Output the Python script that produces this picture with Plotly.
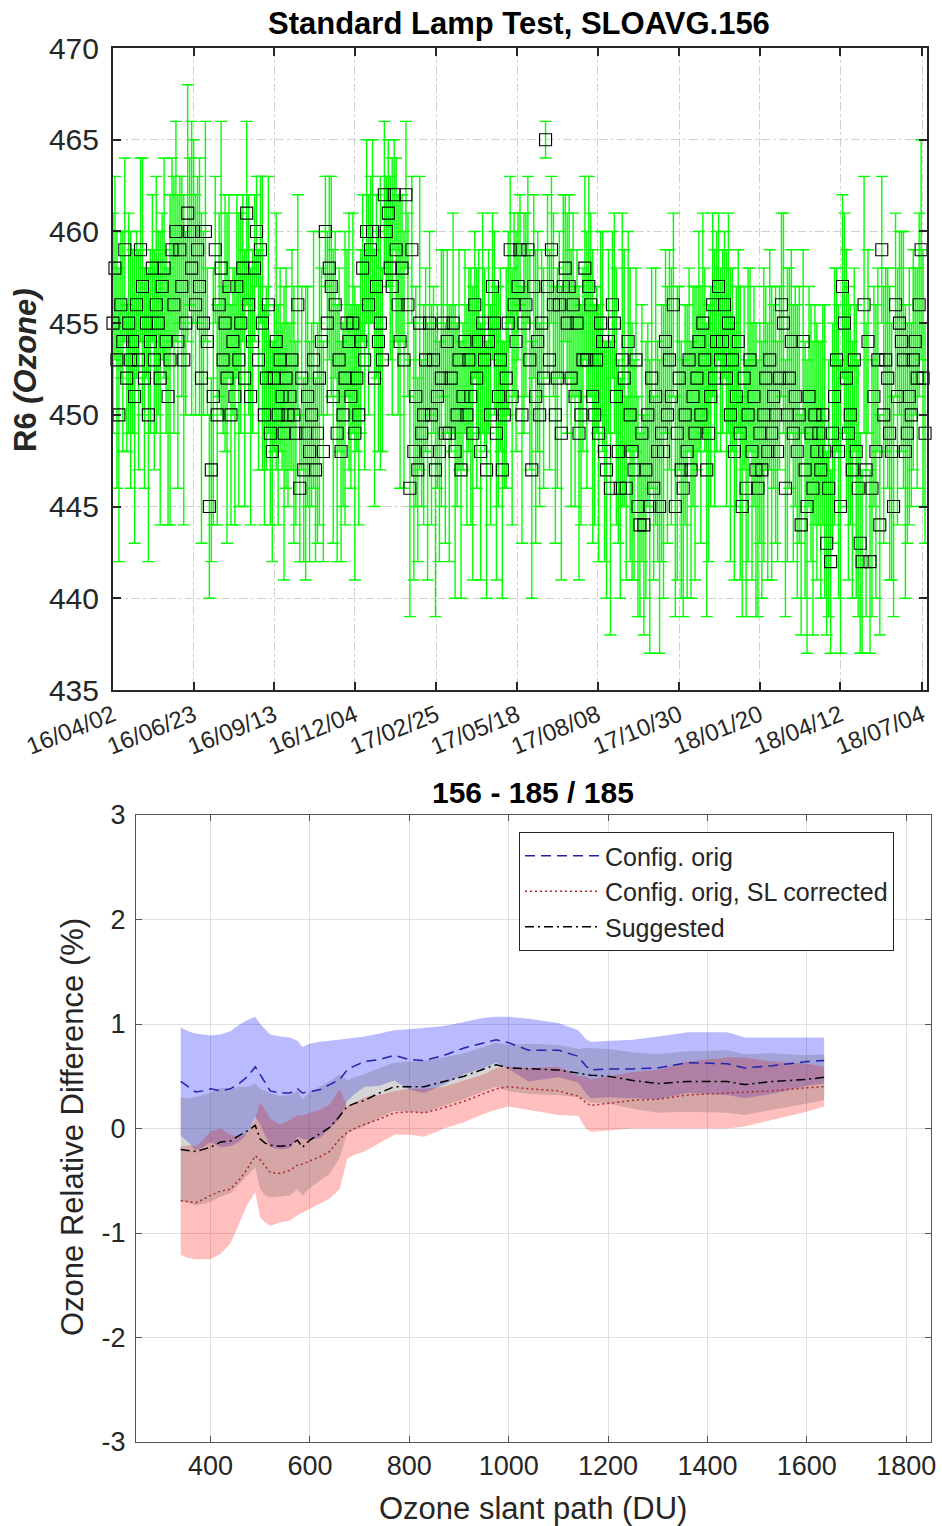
import plotly.graph_objects as go
import pandas as pd

# ---------------- top panel data (SL R6 ozone, sampled every 2 days) ----------------
start_date = "2016-04-02"
step_days = 2
r6 = [
    455, 458, 453, 450, 456, 454, 459, 452, 455, 453,
    454, 451, 456, 453, 459, 457, 452, 455, 450, 454,
    458, 453, 456, 455, 452, 457, 458, 454, 451, 453,
    459, 456, 460, 454, 459, 457, 453, 455, 461, 460,
    458, 460, 456, 459, 457, 452, 455, 460, 454, 445,
    447, 451, 459, 450, 456, 458, 453, 455, 452, 457,
    450, 454, 451, 457, 453, 455, 458, 452, 461, 456,
    451, 454, 458, 460, 453, 459, 455, 450, 452, 456,
    449, 448, 452, 454, 450, 453, 451, 449, 452, 450,
    451, 453, 450, 449, 456, 446, 452, 447, 449, 451,
    448, 450, 453, 447, 449, 452, 454, 448, 460, 455,
    458, 457, 451, 456, 449, 453, 448, 450, 452, 455,
    454, 451, 455, 449, 452, 450, 454, 458, 453, 460,
    456, 459, 460, 452, 457, 454, 455, 453, 462, 460,
    461, 458, 457, 462, 459, 456, 454, 458, 453, 462,
    456, 446, 459, 448, 451, 447, 455, 449, 450, 453,
    448, 455, 450, 453, 447, 451, 448, 452, 455, 449,
    454, 449, 452, 455, 448, 450, 453, 447, 451, 454,
    450, 453, 451, 449, 456, 452, 454, 448, 455, 453,
    447, 454, 450, 457, 455, 449, 451, 453, 447, 450,
    452, 455, 459, 451, 456, 454, 457, 459, 450, 455,
    456, 459, 453, 447, 457, 451, 454, 450, 455, 452,
    465, 457, 453, 459, 456, 450, 452, 456, 449, 457,
    458, 455, 457, 452, 456, 451, 455, 449, 450, 453,
    458, 453, 457, 456, 451, 450, 453, 449, 455, 454,
    448, 447, 454, 446, 456, 455, 451, 448, 446, 453,
    452, 446, 454, 450, 448, 447, 453, 445, 444, 449,
    444, 447, 450, 445, 452, 446, 451, 448, 445, 449,
    448, 454, 450, 453, 451, 456, 445, 449, 452, 447,
    446, 450, 448, 453, 447, 451, 449, 452, 454, 450,
    455, 453, 447, 449, 451, 456, 452, 454, 457, 453,
    454, 456, 452, 455, 450, 453, 448, 451, 454, 449,
    445, 452, 446, 450, 453, 448, 451, 447, 446, 449,
    447, 450, 452, 448, 453, 449, 451, 450, 448, 452,
    456, 455, 446, 450, 452, 454, 449, 451, 448, 450,
    444, 454, 447, 445, 451, 449, 446, 450, 448, 449,
    447, 450, 448, 443, 446, 442, 449, 451, 453, 448,
    445, 457, 455, 452, 449, 450, 447, 453, 448, 446,
    443, 442, 456, 447, 454, 442, 446, 451, 448, 453,
    444, 459, 450, 453, 452, 449, 448, 445, 456, 451,
    455, 454, 453, 448, 449, 451, 450, 453, 454, 452,
    456, 459, 452, 449,
]
r6_err = [
    6, 5, 7, 8, 4, 6, 5, 4, 6, 7,
    5, 8, 4, 6, 5, 7, 6, 3, 8, 5,
    4, 6, 7, 5, 8, 4, 6, 5, 7, 9,
    5, 7, 6, 8, 4, 6, 9, 5, 7, 4,
    8, 5, 6, 4, 7, 9, 5, 6, 4, 5,
    5, 7, 4, 6, 5, 8, 4, 7, 9, 5,
    6, 4, 7, 5, 8, 6, 4, 7, 5, 6,
    7, 5, 4, 3, 6, 4, 8, 6, 5, 7,
    5, 6, 4, 7, 6, 5, 4, 8, 6, 5,
    4, 6, 7, 5, 6, 4, 5, 5, 8, 6,
    6, 5, 7, 5, 6, 8, 4, 6, 3, 5,
    5, 6, 8, 4, 7, 5, 6, 5, 8, 4,
    7, 5, 6, 8, 4, 6, 5, 4, 6, 5,
    6, 4, 5, 7, 5, 6, 8, 5, 4, 3,
    4, 5, 7, 3, 5, 6, 8, 4, 7, 4,
    5, 7, 4, 7, 6, 5, 8, 4, 6, 5,
    7, 5, 6, 4, 8, 5, 6, 7, 4, 6,
    5, 7, 4, 6, 8, 5, 6, 7, 4, 5,
    6, 5, 7, 8, 4, 6, 5, 7, 6, 5,
    7, 5, 6, 4, 5, 8, 6, 5, 7, 4,
    6, 5, 4, 7, 5, 6, 4, 3, 7, 6,
    5, 4, 6, 7, 5, 8, 6, 5, 4, 6,
    1, 5, 6, 4, 5, 7, 6, 4, 8, 5,
    4, 6, 5, 7, 5, 6, 4, 8, 6, 5,
    5, 7, 6, 5, 8, 6, 4, 7, 5, 6,
    6, 7, 5, 8, 4, 6, 7, 5, 6, 8,
    7, 5, 6, 8, 7, 6, 5, 6, 5, 7,
    6, 7, 5, 8, 6, 5, 7, 6, 8, 7,
    8, 5, 7, 6, 7, 5, 6, 8, 5, 7,
    7, 6, 8, 5, 7, 6, 8, 5, 6, 7,
    6, 5, 8, 7, 6, 5, 7, 6, 4, 5,
    5, 4, 7, 6, 8, 5, 7, 6, 5, 8,
    6, 5, 7, 8, 5, 7, 6, 8, 7, 6,
    7, 8, 5, 7, 6, 8, 5, 7, 6, 5,
    5, 6, 7, 8, 6, 5, 7, 6, 8, 7,
    6, 5, 7, 8, 6, 7, 8, 6, 7, 5,
    7, 6, 8, 5, 7, 5, 6, 7, 5, 8,
    8, 5, 6, 7, 8, 6, 7, 5, 8, 7,
    6, 5, 7, 8, 5, 5, 7, 6, 8, 5,
    6, 4, 7, 5, 6, 8, 7, 6, 5, 7,
    5, 6, 7, 8, 6, 7, 5, 6, 4, 6,
    5, 6, 7, 6,
]
date_tickvals = ["2016-04-02", "2016-06-23", "2016-09-13", "2016-12-04",
                 "2017-02-25", "2017-05-18", "2017-08-08", "2017-10-30",
                 "2018-01-20", "2018-04-12", "2018-07-04"]
date_ticktext = ["16/04/02", "16/06/23", "16/09/13", "16/12/04", "17/02/25",
                 "17/05/18", "17/08/08", "17/10/30", "18/01/20", "18/04/12",
                 "18/07/04"]
r6_ticks = [435, 440, 445, 450, 455, 460, 465, 470]

# ---------------- bottom panel data ----------------
du = [340, 355, 370, 385, 400, 420, 440, 460, 475, 490, 500, 510, 520, 540,
      560, 575, 585, 600, 620, 640, 660, 675, 690, 710, 740, 770, 800, 830,
      870, 910, 950, 975, 1000, 1040, 1100, 1140, 1155, 1165, 1200, 1250,
      1300, 1360, 1440, 1475, 1530, 1600, 1635]
orig = [0.45, 0.40, 0.35, 0.36, 0.38, 0.36, 0.38, 0.44, 0.50, 0.59, 0.52,
        0.44, 0.36, 0.34, 0.34, 0.38, 0.34, 0.35, 0.37, 0.42, 0.47, 0.56,
        0.60, 0.64, 0.66, 0.70, 0.66, 0.65, 0.70, 0.77, 0.82, 0.85, 0.82,
        0.75, 0.75, 0.69, 0.60, 0.56, 0.57, 0.57, 0.58, 0.63, 0.62, 0.58,
        0.60, 0.64, 0.65]
orig_hw = [0.52, 0.53, 0.56, 0.54, 0.51, 0.54, 0.55, 0.56, 0.54, 0.48, 0.48,
           0.51, 0.54, 0.54, 0.53, 0.46, 0.44, 0.46, 0.46, 0.42, 0.38, 0.30,
           0.27, 0.24, 0.25, 0.24, 0.29, 0.31, 0.28, 0.25, 0.24, 0.22, 0.25,
           0.30, 0.26, 0.25, 0.26, 0.27, 0.27, 0.28, 0.30, 0.29, 0.30, 0.29,
           0.27, 0.23, 0.22]
slcorr = [-0.69, -0.70, -0.71, -0.68, -0.64, -0.60, -0.58, -0.48, -0.38,
          -0.26, -0.30, -0.36, -0.42, -0.43, -0.40, -0.35, -0.34, -0.31,
          -0.27, -0.22, -0.10, -0.04, 0.00, 0.04, 0.09, 0.15, 0.16, 0.15,
          0.20, 0.26, 0.33, 0.38, 0.40, 0.38, 0.36, 0.31, 0.25, 0.22, 0.24,
          0.27, 0.28, 0.32, 0.34, 0.35, 0.36, 0.39, 0.40]
slcorr_hw = [0.52, 0.54, 0.54, 0.57, 0.61, 0.60, 0.52, 0.40, 0.34, 0.35, 0.55,
             0.54, 0.51, 0.47, 0.48, 0.48, 0.46, 0.46, 0.45, 0.45, 0.48, 0.25,
             0.25, 0.26, 0.23, 0.21, 0.22, 0.23, 0.20, 0.20, 0.19, 0.20, 0.19,
             0.20, 0.23, 0.19, 0.25, 0.25, 0.26, 0.27, 0.28, 0.32, 0.34, 0.33,
             0.28, 0.23, 0.19]
sugg = [-0.20, -0.21, -0.22, -0.20, -0.18, -0.13, -0.12, -0.06, -0.02, 0.03,
        -0.10, -0.14, -0.16, -0.17, -0.16, -0.11, -0.18, -0.11, -0.05, 0.01,
        0.12, 0.21, 0.24, 0.27, 0.34, 0.40, 0.40, 0.40, 0.45, 0.50, 0.57,
        0.61, 0.58, 0.57, 0.56, 0.53, 0.52, 0.51, 0.50, 0.46, 0.43, 0.45,
        0.45, 0.42, 0.45, 0.47, 0.49]
sugg_hw = [0.50, 0.50, 0.52, 0.52, 0.52, 0.52, 0.50, 0.46, 0.42, 0.40, 0.48,
           0.50, 0.50, 0.48, 0.48, 0.47, 0.46, 0.46, 0.45, 0.44, 0.40, 0.25,
           0.25, 0.25, 0.24, 0.23, 0.24, 0.25, 0.23, 0.22, 0.21, 0.21, 0.22,
           0.24, 0.24, 0.23, 0.25, 0.26, 0.26, 0.27, 0.28, 0.29, 0.30, 0.29,
           0.27, 0.23, 0.22]
du_ticks = [400, 600, 800, 1000, 1200, 1400, 1600, 1800]
diff_ticks = [-3, -2, -1, 0, 1, 2, 3]
diff_ticktext = ["-3", "-2", "-1", "0", "1", "2", "3"]

W, H = 942, 1526
FONT = "Liberation Sans, Arial, sans-serif"
TXT = "#262626"

dates = pd.date_range(start_date, periods=len(r6), freq=f"{step_days}D")

fig = go.Figure()

# error bars (green) and open squares
fig.add_trace(go.Scatter(
    x=dates, y=r6, mode="markers", xaxis="x", yaxis="y",
    marker=dict(size=2, opacity=0, color="#00ff00"),
    error_y=dict(type="data", array=r6_err, color="#00ff00", thickness=1.4, width=6),
    showlegend=False, hoverinfo="skip", cliponaxis=False))
fig.add_trace(go.Scatter(
    x=dates, y=r6, mode="markers", xaxis="x", yaxis="y",
    marker=dict(symbol="square-open", size=12, color="black", line=dict(width=1.1)),
    showlegend=False, cliponaxis=False))


def band(center, hw, color):
    up = [c + h for c, h in zip(center, hw)]
    lo = [c - h for c, h in zip(center, hw)]
    return go.Scatter(x=du + du[::-1], y=up + lo[::-1], fill="toself",
                      fillcolor=color, line=dict(width=0), mode="lines",
                      xaxis="x2", yaxis="y2", showlegend=False, hoverinfo="skip")


fig.add_trace(band(orig, orig_hw, "rgba(0,0,255,0.27)"))
fig.add_trace(band(slcorr, slcorr_hw, "rgba(255,0,0,0.25)"))
fig.add_trace(band(sugg, sugg_hw, "rgba(90,90,90,0.25)"))

fig.add_trace(go.Scatter(x=du, y=orig, mode="lines", name="Config. orig",
                         line=dict(color="rgb(35,35,175)", width=1.5, dash="10px,6px"),
                         xaxis="x2", yaxis="y2"))
fig.add_trace(go.Scatter(x=du, y=slcorr, mode="lines", name="Config. orig, SL corrected",
                         line=dict(color="rgb(170,40,40)", width=1.5, dash="2px,3px"),
                         xaxis="x2", yaxis="y2"))
fig.add_trace(go.Scatter(x=du, y=sugg, mode="lines", name="Suggested",
                         line=dict(color="black", width=1.5, dash="9px,4px,2px,4px"),
                         xaxis="x2", yaxis="y2"))


def px_x(p):
    return p / W


def px_y(p):
    return 1 - p / H


fig.update_layout(
    width=W, height=H, margin=dict(l=0, r=0, t=0, b=0, autoexpand=False),
    paper_bgcolor="white", plot_bgcolor="white",
    font=dict(family=FONT, color=TXT),
    xaxis=dict(domain=[px_x(113), px_x(927)], type="date", automargin=False,
               range=["2016-04-02", "2018-07-09"],
               tickvals=date_tickvals, ticktext=date_ticktext, tickangle=-22,
               tickfont=dict(size=24, color=TXT),
               showgrid=True, gridcolor="#d0d0d0", griddash="dashdot", gridwidth=1,
               showline=True, linecolor="#262626", linewidth=2, mirror="ticks",
               ticks="inside", ticklen=8, tickcolor="#262626", tickwidth=2,
               zeroline=False, anchor="y"),
    yaxis=dict(domain=[px_y(690), px_y(48)], range=[435, 470], tickvals=r6_ticks,
               automargin=False,
               tickfont=dict(size=30, color=TXT),
               showgrid=True, gridcolor="#d0d0d0", griddash="dashdot", gridwidth=1,
               showline=True, linecolor="#262626", linewidth=2, mirror="ticks",
               ticks="inside", ticklen=8, tickcolor="#262626", tickwidth=2,
               zeroline=False, anchor="x", ticklabelstandoff=6),
    xaxis2=dict(domain=[px_x(136), px_x(931)], range=[250, 1850], tickvals=du_ticks,
                automargin=False,
                tickfont=dict(size=27, color=TXT),
                showgrid=True, gridcolor="#e0e0e0", gridwidth=1,
                showline=True, linecolor="#555555", linewidth=1, mirror="ticks",
                ticks="inside", ticklen=6, tickcolor="#555555",
                zeroline=False, anchor="y2"),
    yaxis2=dict(domain=[px_y(1442), px_y(815)], range=[-3, 3], tickvals=diff_ticks,
                ticktext=diff_ticktext, automargin=False,
                tickfont=dict(size=27, color=TXT),
                showgrid=True, gridcolor="#e0e0e0", gridwidth=1,
                showline=True, linecolor="#555555", linewidth=1, mirror="ticks",
                ticks="inside", ticklen=6, tickcolor="#555555",
                zeroline=False, anchor="x2", ticklabelstandoff=4),
    legend=dict(x=px_x(519), y=px_y(832), xanchor="left", yanchor="top",
                bgcolor="white", bordercolor="#262626", borderwidth=1,
                font=dict(size=25, color=TXT, family=FONT), itemwidth=75,
                tracegroupgap=0),
    annotations=[
        dict(text="<b>Standard Lamp Test, SLOAVG.156</b>", x=px_x(519), y=px_y(24),
             xref="paper", yref="paper", showarrow=False, xanchor="center",
             yanchor="middle", font=dict(size=31, color="black")),
        dict(text="<b>R6 <i>(Ozone)</i></b>", x=px_x(26), y=px_y(370),
             xref="paper", yref="paper", showarrow=False, textangle=-90,
             xanchor="center", yanchor="middle", font=dict(size=31, color=TXT)),
        dict(text="<b>156 - 185 / 185</b>", x=px_x(533), y=px_y(792),
             xref="paper", yref="paper", showarrow=False, xanchor="center",
             yanchor="middle", font=dict(size=30, color="black")),
        dict(text="Ozone Relative Difference (%)", x=px_x(72), y=px_y(1127),
             xref="paper", yref="paper", showarrow=False, textangle=-90,
             xanchor="center", yanchor="middle", font=dict(size=31, color=TXT)),
        dict(text="Ozone slant path (DU)", x=px_x(533), y=px_y(1508),
             xref="paper", yref="paper", showarrow=False, xanchor="center",
             yanchor="middle", font=dict(size=31, color=TXT)),
    ],
)

fig.write_html(
    "out.html",
    config={"displayModeBar": False},
    post_script="document.body.style.margin='0';document.body.style.overflow='hidden';",
)
